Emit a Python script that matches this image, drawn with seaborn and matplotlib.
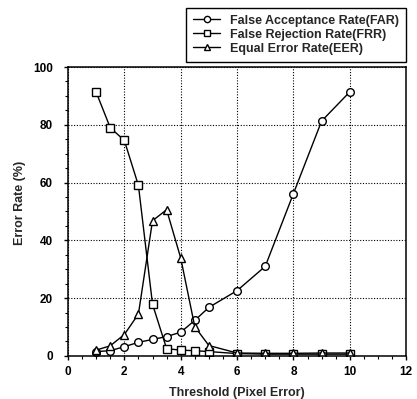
import matplotlib
matplotlib.use("Agg")
import matplotlib.pyplot as plt
import seaborn as sns
import pandas as pd
import numpy as np
from matplotlib.ticker import MultipleLocator

thresholds = [1, 1.5, 2, 2.5, 3, 3.5, 4, 4.5, 5, 6, 7, 8, 9, 10]
far = [1.5, 1.8, 3.2, 4.7, 5.7, 6.7, 8.2, 12.3, 16.8, 22.6, 31.0, 56.2, 81.3, 91.4]
frr = [91.3, 79.0, 74.6, 59.0, 17.9, 2.5, 2.0, 1.8, 1.5, 0.8, 0.6, 0.6, 0.6, 0.6]
eer = [2.0, 3.5, 7.4, 14.5, 46.8, 50.6, 33.9, 10.1, 3.6, 1.0, 0.9, 0.9, 1.0, 1.0]
series_names = ["False Acceptance Rate(FAR)", "False Rejection Rate(FRR)", "Equal Error Rate(EER)"]
x_ticks = [0, 2, 4, 6, 8, 10, 12]
y_ticks = [0, 20, 40, 60, 80, 100]

df = pd.concat([
    pd.DataFrame({"Threshold": thresholds, "Rate": vals, "Series": name})
    for name, vals in zip(series_names, [far, frr, eer])
], ignore_index=True)

sns.set_theme(style="white")
plt.rcParams['font.family'] = ['Liberation Sans', 'DejaVu Sans']
plt.rcParams['font.weight'] = 'bold'

fig = plt.figure(figsize=(4.17, 3.99), dpi=100)
ax = fig.add_axes([0.163, 0.108, 0.811, 0.724])

sns.lineplot(data=df, x="Threshold", y="Rate", hue="Series", style="Series",
             palette={n: "black" for n in series_names},
             markers={series_names[0]: "o", series_names[1]: "s", series_names[2]: "^"},
             dashes=False, markersize=5.5, markerfacecolor="white",
             markeredgecolor="black", markeredgewidth=1.0, linewidth=1.0,
             ax=ax, legend=True)

ax.set_xlim(0, 12)
ax.set_ylim(0, 100)
ax.set_xticks(x_ticks)
ax.set_yticks(y_ticks)
ax.xaxis.set_minor_locator(MultipleLocator(0.5))
ax.yaxis.set_minor_locator(MultipleLocator(5))
ax.tick_params(axis="both", which="major", direction="out", length=3, width=1,
               labelsize=8.5, color="black", labelcolor="black",
               bottom=True, left=True)
ax.tick_params(axis="y", which="major", pad=8)
ax.tick_params(axis="x", which="major", pad=4)
ax.tick_params(axis="both", which="minor", direction="out", length=2.2, width=0.8,
               color="black", bottom=True, left=True)
for lbl in ax.get_xticklabels() + ax.get_yticklabels():
    lbl.set_fontweight("bold")
ax.grid(True, which="major", linestyle=(0, (1, 1.5)), color="black", linewidth=0.8)
for s in ax.spines.values():
    s.set_color("black")
    s.set_linewidth(1.1)

ax.set_xlabel("Threshold (Pixel Error)", fontsize=9, fontweight="bold", labelpad=7)
ax.set_ylabel("Error Rate (%)", fontsize=9, fontweight="bold")
ax.yaxis.set_label_coords(-0.125, 0.53)

handles, labels = ax.get_legend_handles_labels()
for h in handles:
    h.set_markerfacecolor("white")
    h.set_markeredgecolor("black")
    h.set_markersize(4.5)
    h.set_linewidth(1.0)
leg = ax.legend(handles, labels, loc="upper right", bbox_to_anchor=(0.974, 0.98),
                bbox_transform=fig.transFigure, frameon=True, fancybox=False,
                edgecolor="black", fontsize=9, handlelength=2.2, handletextpad=0.8,
                labelspacing=0.16, borderpad=0.55, borderaxespad=0, framealpha=1)
leg.get_frame().set_linewidth(1.0)
for t in leg.get_texts():
    t.set_fontweight("bold")

fig.savefig("out.png", dpi=100)
